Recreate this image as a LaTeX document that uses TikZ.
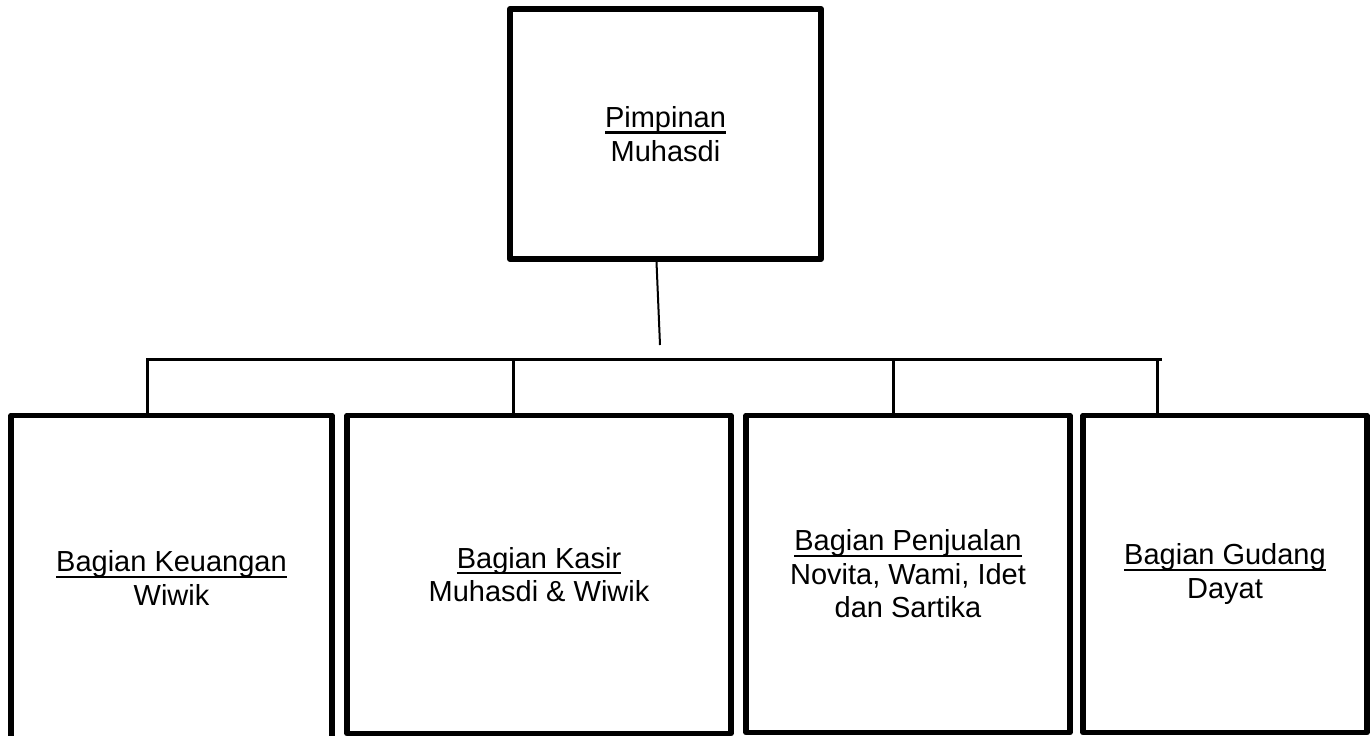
\documentclass[tikz,border=0pt]{standalone}
\usepackage{fontspec}
\setmainfont{Liberation Sans}
\newcommand\ulx[1]{\setbox0=\hbox{#1}\rlap{\rule[-6pt]{\wd0}{2.2pt}}\box0}
\begin{document}
\begin{tikzpicture}[x=1pt,y=-1pt,
  box/.style={draw, line width=5.5pt, line join=round, align=center, inner sep=0pt,
              font=\fontsize{29pt}{33.5pt}\selectfont},
  bus/.style={line width=3pt, line cap=rect},
  link/.style={line width=2pt}]
\fill[white] (0,0) rectangle (1371,736);
\useasboundingbox (0,0) rectangle (1371,736);
% boxes
\node[box, line width=6pt, minimum width=311pt, minimum height=250pt] (pim) at (665.5,134)
  {\ulx{Pimpinan}\\Muhasdi};
\node[box, minimum width=321pt, minimum height=325pt] (keu) at (171.5,578)
  {\ulx{Bagian Keuangan}\\Wiwik};
\node[box, minimum width=384pt, minimum height=318pt] (kas) at (539,574.5)
  {\ulx{Bagian Kasir}\\Muhasdi \& Wiwik};
\node[box, minimum width=324pt, minimum height=317pt] (pen) at (908,574)
  {\ulx{Bagian Penjualan}\\Novita, Wami, Idet\\dan Sartika};
\node[box, minimum width=284pt, minimum height=317pt] (gud) at (1225,574)
  {\ulx{Bagian Gudang}\\Dayat};
% connectors
\coordinate (c) at (660,345);
\draw[link] ([xshift=-9pt]pim.south) -- (c);
\coordinate (d1) at (147,359);
\coordinate (d2) at (513,359);
\coordinate (d3) at (893,359);
\coordinate (d4) at (1157,359);
\coordinate (br) at (1160,359);
\draw[bus] (d1) -- (br);
\draw[bus] (d1) -- (d1 |- keu.north);
\draw[bus] (d2) -- (d2 |- kas.north);
\draw[bus] (d3) -- (d3 |- pen.north);
\draw[bus] (d4) -- (d4 |- gud.north);
\end{tikzpicture}
\end{document}
